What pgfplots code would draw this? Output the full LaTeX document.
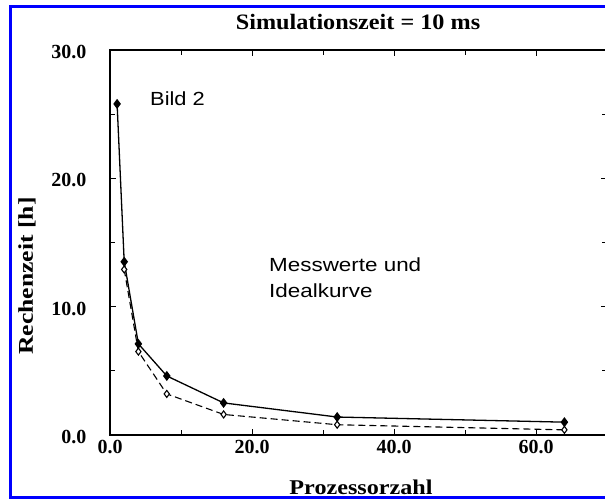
\documentclass[border=0pt]{standalone}
\usepackage{pgfplots}
\pgfplotsset{compat=1.18}
\usepackage{fontspec}
\setmainfont{Liberation Serif}
\setsansfont{Liberation Sans}
\begin{document}
\begin{tikzpicture}[x=1pt,y=1pt]
\useasboundingbox (0,0) rectangle (605,502);
\clip (0,0) rectangle (605,502);
\fill[white] (0,0) rectangle (605,502);
\draw[blue, line width=3pt] (10.5,4) rectangle (640,495.5);
\begin{axis}[
  at={(110pt,67pt)}, anchor=south west,
  width=497pt, height=385pt, scale only axis,
  xmin=0, xmax=70, ymin=0, ymax=30,
  xtick={0,20,40,60}, minor xtick={10,30,50},
  ytick={0,10,20,30}, minor ytick={5,15,25},
  tick align=inside,
  major tick length=6pt, minor tick length=5pt,
  every tick/.style={black, line width=1pt},
  axis line style={line width=1.3pt},
  /pgf/number format/.cd, fixed, fixed zerofill, precision=1, assume math mode=true,
  /pgfplots/.cd,
  ticklabel style={font=\bfseries\fontsize{20}{20}\selectfont},
  yticklabel style={xshift=-20pt, yshift=-2pt},
  xticklabel style={yshift=-2pt},
]
\addplot[black, line width=1.3pt, mark=diamond*, mark size=4pt, mark options={solid, fill=black}]
  coordinates {(1,25.8)(2,13.5)(4,7.1)(8,4.6)(16,2.5)(32,1.4)(64,1.0)};
\addplot[black, line width=1.1pt, dash pattern=on 7pt off 4pt, mark=diamond*, mark size=3.5pt, mark options={solid, fill=white}]
  coordinates {(2,12.9)(4,6.5)(8,3.2)(16,1.6)(32,0.8)(64,0.4)};
\end{axis}
\node at (358,480) {\scalebox{1.1}[1]{\bfseries\fontsize{22}{22}\selectfont Simulationszeit = 10 ms}};
\node[rotate=90] at (27,226) {\scalebox{1.22}[1]{\bfseries\fontsize{21}{21}\selectfont Rechenzeit [h]}};
\node at (361,15) {\scalebox{1.15}[1]{\bfseries\fontsize{21}{21}\selectfont Prozessorzahl}};
\node[anchor=west, inner sep=0pt] at (150,403) {\scalebox{1.15}[1]{\sffamily\fontsize{19}{19}\selectfont Bild 2}};
\node[anchor=west, inner sep=0pt] at (269,237) {\scalebox{1.18}[1]{\sffamily\fontsize{19}{19}\selectfont Messwerte und}};
\node[anchor=west, inner sep=0pt] at (269,211) {\scalebox{1.18}[1]{\sffamily\fontsize{19}{19}\selectfont Idealkurve}};
\end{tikzpicture}
\end{document}
